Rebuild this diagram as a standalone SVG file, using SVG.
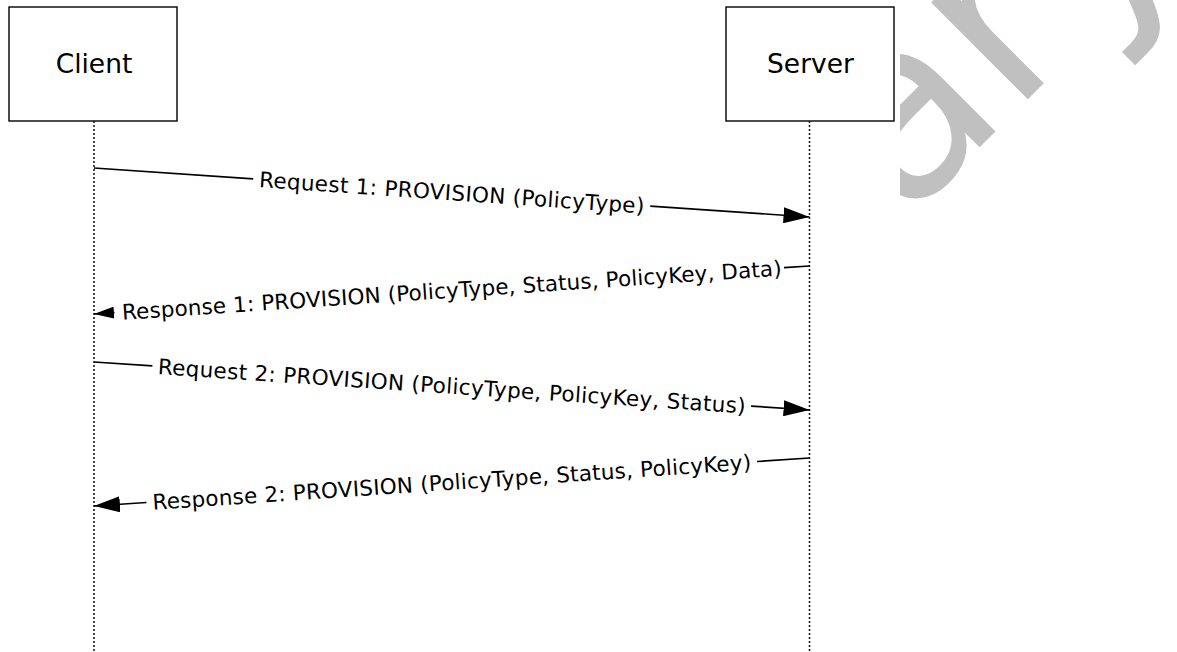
<svg xmlns="http://www.w3.org/2000/svg" width="1177" height="652" viewBox="0 0 1177 652">
<defs>
<style>
.box{fill:#fff;stroke:#000;stroke-width:1.4}
.life{stroke:#111;stroke-width:1.5;stroke-dasharray:2 2;fill:none}
.name{font-family:"DejaVu Sans",Verdana,sans-serif;font-size:26.5px;fill:#000;text-anchor:middle}
.msg{stroke:#000;stroke-width:1.7;fill:none}
.lbl{font-family:"DejaVu Sans",Verdana,sans-serif;font-size:21.5px;fill:#000;text-anchor:middle}
.wm{font-family:"DejaVu Sans",sans-serif;font-size:250px;fill:#c0c0c0;text-anchor:end}
</style>
<marker id="ah" markerUnits="userSpaceOnUse" markerWidth="26" markerHeight="16" viewBox="0 0 26 16" refX="26" refY="8" orient="auto"><path d="M0,0 L26,8 L0,16 z" fill="#000"/></marker>
<marker id="ahs" markerUnits="userSpaceOnUse" markerWidth="20" markerHeight="12" viewBox="0 0 20 12" refX="20" refY="6" orient="auto"><path d="M0,0 L20,6 L0,12 z" fill="#000"/></marker>
<clipPath id="wmclip"><rect x="900" y="0" width="277" height="652"/></clipPath>
</defs>
<rect width="1177" height="652" fill="#fff"/>
<g id="watermark" clip-path="url(#wmclip)">
<text class="wm" transform="translate(1189,-62) rotate(-45)">Preliminary</text>
</g>
<g id="client">
<rect class="box" x="9" y="7" width="168" height="114"/>
<text class="name" x="94" y="73">Client</text>
<line class="life" x1="94" y1="121" x2="94" y2="652"/>
</g>
<g id="server">
<rect class="box" x="726" y="7" width="168" height="114"/>
<text class="name" x="810.5" y="73">Server</text>
<line class="life" x1="809.5" y1="121" x2="809.5" y2="652"/>
</g>
<g id="connectors">
<g id="req1" transform="translate(451.75,192.5) rotate(3.92)">
<path class="msg" d="M-358.6,0 H-199"/>
<path class="msg" d="M199,0 H358.6" marker-end="url(#ah)"/>
<text class="lbl" x="0" y="0" dy="0.36em" textLength="386" lengthAdjust="spacing">Request 1: PROVISION (PolicyType)</text>
</g>
<g id="resp1" transform="translate(451.75,290) rotate(-3.84)">
<path class="msg" d="M333,0 H358.6"/>
<path class="msg" d="M-338,0 H-358.6" marker-end="url(#ahs)"/>
<text class="lbl" x="0" y="0" dy="0.36em" textLength="661" lengthAdjust="spacing">Response 1: PROVISION (PolicyType, Status, PolicyKey, Data)</text>
</g>
<g id="req2" transform="translate(451.75,386) rotate(3.84)">
<path class="msg" d="M-358.6,0 H-300"/>
<path class="msg" d="M300,0 H358.6" marker-end="url(#ah)"/>
<text class="lbl" x="0" y="0" dy="0.36em" textLength="589" lengthAdjust="spacing">Request 2: PROVISION (PolicyType, PolicyKey, Status)</text>
</g>
<g id="resp2" transform="translate(451.75,482) rotate(-3.84)">
<path class="msg" d="M306,0 H358.6"/>
<path class="msg" d="M-306,0 H-358.6" marker-end="url(#ah)"/>
<text class="lbl" x="0" y="0" dy="0.36em" textLength="600" lengthAdjust="spacing">Response 2: PROVISION (PolicyType, Status, PolicyKey)</text>
</g>
</g>
</svg>
